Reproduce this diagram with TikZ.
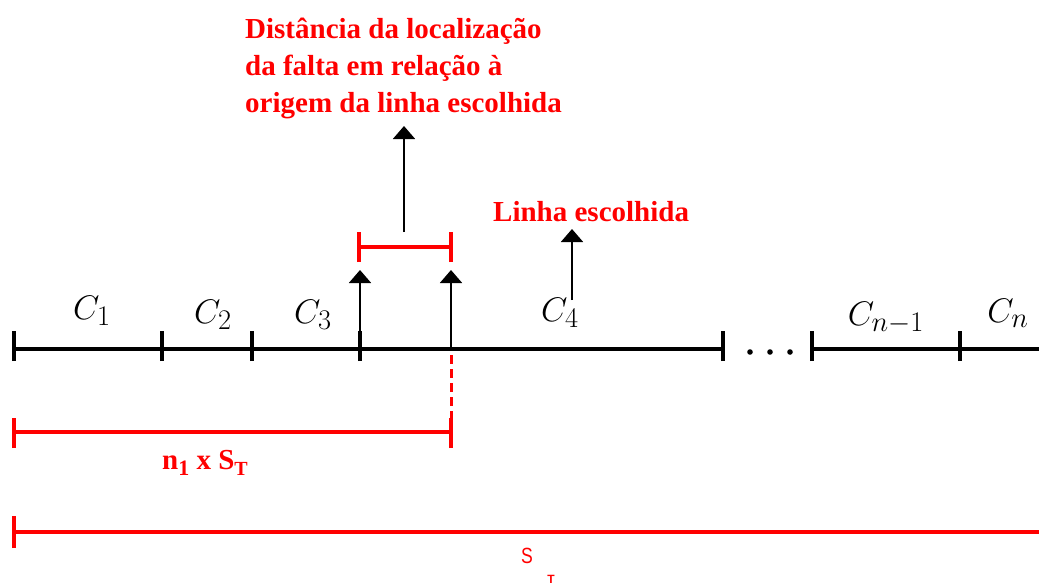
\documentclass[tikz,border=0pt]{standalone}
\usepackage{fontspec}
\setmainfont{Liberation Serif}
\newfontfamily\sansf{Liberation Sans}
\usetikzlibrary{arrows.meta}
\definecolor{lred}{RGB}{255,0,0}
\tikzset{
  blk/.style={line width=3.2pt,black},
  redl/.style={line width=3.2pt,lred},
  thinarr/.style={line width=1.8pt,black,-{Triangle[width=22pt,length=13pt]}},
  redtxt/.style={text=lred,font=\fontsize{29}{37}\selectfont\bfseries,inner sep=0pt},
  clab/.style={font=\fontsize{24.88}{26}\selectfont,inner sep=0pt,scale=1.37},
}
\begin{document}
\begin{tikzpicture}[x=1pt,y=-1pt]
\useasboundingbox (0,0) rectangle (1039,587);
% main line points
\coordinate (p0) at (14,349);
\coordinate (p1) at (162,349);
\coordinate (p2) at (252,349);
\coordinate (p3) at (360,349);
\coordinate (pf) at (451,349);
\coordinate (p4) at (723,349);
\coordinate (p5) at (812,349);
\coordinate (p6) at (960,349);
\coordinate (pe) at (1039,349);
\draw[blk] (p0) -- (p4);
\draw[blk] (p5) -- (pe);
\foreach \p in {p0,p1,p2,p3,p4,p5,p6}{
  \draw[blk] ([yshift=-12pt]\p) -- ([yshift=18pt]\p);
}
\foreach \x in {750,770,790}{\fill (\x,352) circle (2.8pt);}
% labels
\node[clab] (c1) at (92,311) {$C_1$};
\node[clab] (c2) at (213,315) {$C_2$};
\node[clab] (c3) at (313,315) {$C_3$};
\node[clab] (c4) at (560,313) {$C_4$};
\node[clab] (cn1) at (886,318) {$C_{n-1}$};
\node[clab] (cn) at (1008,313) {$C_n$};
% arrows from line
\coordinate (a3s) at (360,331);
\coordinate (a3e) at (360,270);
\coordinate (afe) at (451,270);
\draw[thinarr] (a3s) -- (a3e);
\draw[thinarr] (pf) -- (afe);
% red bracket (fault distance)
\coordinate (b1) at (359,247);
\coordinate (b2) at (451,247);
\draw[redl] (b1) -- (b2);
\draw[redl] ([yshift=-15pt]b1) -- ([yshift=15pt]b1);
\draw[redl] ([yshift=-15pt]b2) -- ([yshift=15pt]b2);
\coordinate (bm) at (404,232);
\node[redtxt,align=left,anchor=north west] (dist) at (245,18) {Distância da localização\\da falta em relação à\\origem da linha escolhida};
\coordinate (dtop) at (404,126);
\draw[thinarr] (bm) -- (dtop);
% linha escolhida
\node[redtxt,anchor=west] (le) at (493,212) {Linha escolhida};
\coordinate (les) at (572,300);
\coordinate (lee) at (572,229);
\draw[thinarr] (les) -- (lee);
% dashed red and n1 x ST
\coordinate (dd1) at (451,355);
\coordinate (dd2) at (451,421);
\draw[lred,line width=3pt,dash pattern=on 9pt off 5pt] (dd1) -- (dd2);
\coordinate (n0) at (14,432);
\coordinate (n1) at (451,432);
\draw[redl] (n0) -- (n1);
\draw[redl] ([yshift=-16pt]n0) -- ([yshift=14pt]n0);
\draw[redl] ([yshift=-16pt]n1) -- ([yshift=14pt]n1);
\node[redtxt] (nst) at (205,463) {n\raisebox{-6pt}{\fontsize{22}{22}\selectfont 1}~x~S\raisebox{-6pt}{\fontsize{20}{20}\selectfont T}};
% total ST
\coordinate (s0) at (14,532);
\coordinate (s1) at (1039,532);
\draw[redl] (s0) -- (s1);
\draw[redl] ([yshift=-16pt]s0) -- ([yshift=16pt]s0);
\node[text=lred,font=\sansf\fontsize{22}{22}\selectfont,inner sep=0pt,xscale=0.8] (sS) at (527,556) {S};
\node[text=lred,font=\sansf\bfseries\fontsize{12}{12}\selectfont,inner sep=0pt,anchor=north] (sT) at (551,575) {T};
\end{tikzpicture}
\end{document}
